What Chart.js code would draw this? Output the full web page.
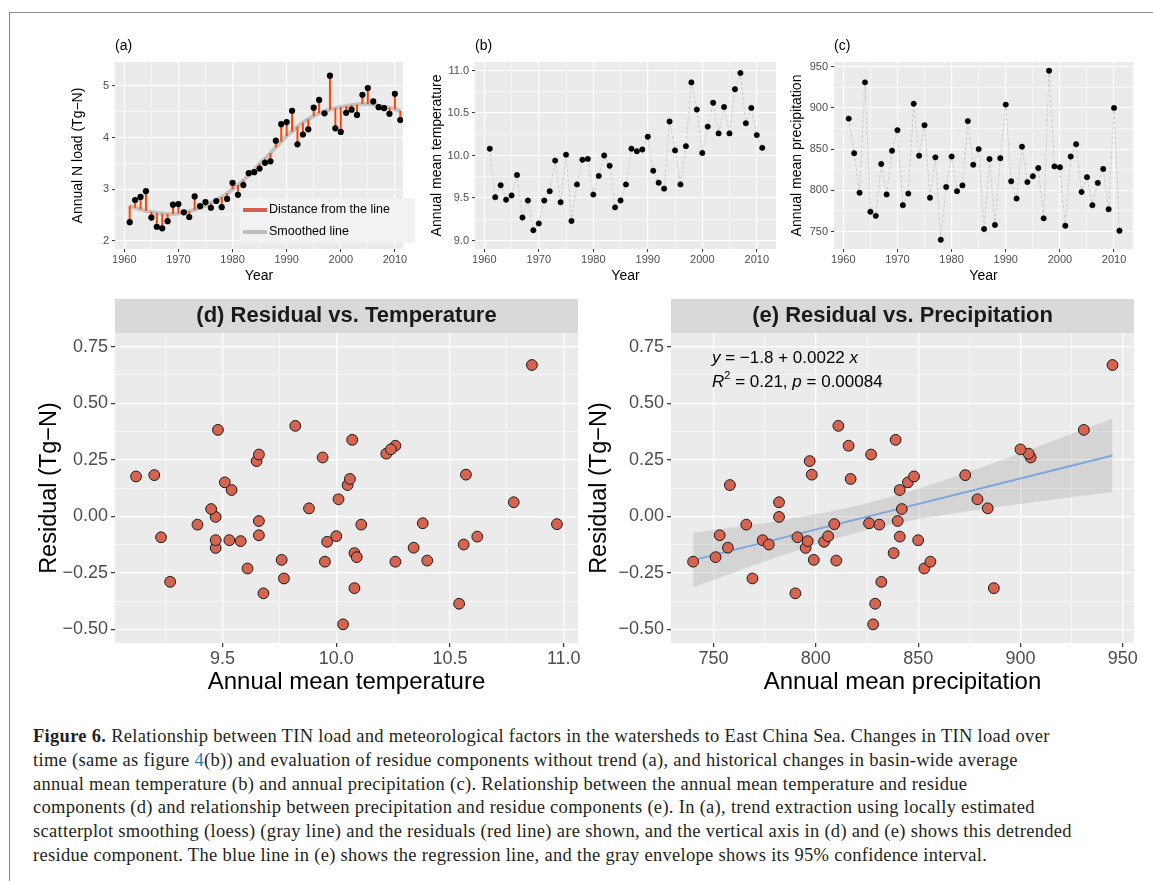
<!DOCTYPE html>
<html>
<head>
<meta charset="utf-8">
<script src="https://cdn.jsdelivr.net/npm/chart.js@4.4.0/dist/chart.umd.min.js"></script>
<style>
  body { margin: 0; background: #fff; width: 1153px; height: 881px; position: relative; overflow: hidden; }
  .frame { position: absolute; left: 9px; top: 12px; width: 1160px; height: 900px; border-left: 1px solid #8a8a8a; border-top: 1px solid #8a8a8a; }
  canvas { position: absolute; }
  #eq { position: absolute; left: 712px; top: 346px; font-family: "Liberation Sans", Arial, sans-serif; font-size: 17px; line-height: 24px; color: #000; white-space: nowrap; }
  #eq sup { font-size: 11px; line-height: 0; position: relative; top: -1px; }
  #caption { position: absolute; left: 33px; top: 725px; font-family: "Liberation Serif", "Times New Roman", serif; font-size: 18.5px; letter-spacing: 0.3px; line-height: 23.8px; color: #231f20; white-space: nowrap; }
  #caption .ref { color: #2b7bbf; }
</style>
</head>
<body>
<div class="frame"></div>
<canvas id="chartA" width="353" height="250" style="left:62px;top:36px"></canvas>
<canvas id="chartB" width="360" height="250" style="left:420px;top:36px"></canvas>
<canvas id="chartC" width="365" height="250" style="left:780px;top:36px"></canvas>
<canvas id="chartD" width="550" height="401" style="left:30px;top:299px"></canvas>
<canvas id="chartE" width="565" height="401" style="left:580px;top:299px"></canvas>
<div id="eq"><i>y</i> = &minus;1.8 + 0.0022 <i>x</i><br><i>R</i><sup>2</sup> = 0.21, <i>p</i> = 0.00084</div>
<div id="caption">
  <div><b>Figure 6.</b> Relationship between TIN load and meteorological factors in the watersheds to East China Sea. Changes in TIN load over</div>
  <div>time (same as figure <span class="ref">4</span>(b)) and evaluation of residue components without trend (a), and historical changes in basin-wide average</div>
  <div>annual mean temperature (b) and annual precipitation (c). Relationship between the annual mean temperature and residue</div>
  <div>components (d) and relationship between precipitation and residue components (e). In (a), trend extraction using locally estimated</div>
  <div>scatterplot smoothing (loess) (gray line) and the residuals (red line) are shown, and the vertical axis in (d) and (e) shows this detrended</div>
  <div>residue component. The blue line in (e) shows the regression line, and the gray envelope shows its 95% confidence interval.</div>
</div>
<script>
const FONT = '"Liberation Sans", Arial, Helvetica, sans-serif';
Chart.defaults.font.family = FONT;

// ================== DATA ==================
const years = [1961, 1962, 1963, 1964, 1965, 1966, 1967, 1968, 1969, 1970,
  1971, 1972, 1973, 1974, 1975, 1976, 1977, 1978, 1979, 1980,
  1981, 1982, 1983, 1984, 1985, 1986, 1987, 1988, 1989, 1990,
  1991, 1992, 1993, 1994, 1995, 1996, 1997, 1998, 1999, 2000,
  2001, 2002, 2003, 2004, 2005, 2006, 2007, 2008, 2009, 2010, 2011];

// annual N load (Tg-N)
const nLoad = [2.36, 2.79, 2.85, 2.96, 2.45, 2.27, 2.24, 2.38, 2.70, 2.71,
  2.55, 2.46, 2.86, 2.67, 2.75, 2.64, 2.77, 2.65, 2.81, 3.12,
  2.89, 3.08, 3.31, 3.33, 3.40, 3.51, 3.54, 3.94, 4.26, 4.30,
  4.52, 3.87, 4.06, 4.16, 4.58, 4.73, 4.47, 5.20, 4.18, 4.11,
  4.48, 4.54, 4.44, 4.83, 4.96, 4.70, 4.59, 4.57, 4.46, 4.85, 4.34];

// loess smoothed line
const smoothed = [2.68, 2.64, 2.61, 2.58, 2.56, 2.54, 2.53, 2.52, 2.52, 2.53,
  2.55, 2.57, 2.60, 2.64, 2.68, 2.73, 2.79, 2.85, 2.92, 3.00,
  3.08, 3.17, 3.27, 3.37, 3.49, 3.59, 3.70, 3.81, 3.92, 4.03,
  4.12, 4.21, 4.29, 4.36, 4.42, 4.47, 4.51, 4.54, 4.57, 4.59,
  4.61, 4.63, 4.64, 4.65, 4.65, 4.64, 4.62, 4.60, 4.58, 4.55, 4.52];

const temperature = [10.08, 9.51, 9.65, 9.48, 9.53, 9.77, 9.27, 9.47, 9.12, 9.20,
  9.47, 9.58, 9.94, 9.45, 10.01, 9.23, 9.66, 9.95, 9.96, 9.54,
  9.76, 10.00, 9.88, 9.39, 9.47, 9.66, 10.08, 10.05, 10.07, 10.22,
  9.82, 9.68, 9.61, 10.40, 10.06, 9.66, 10.11, 10.86, 10.54, 10.03,
  10.34, 10.62, 10.26, 10.57, 10.26, 10.78, 10.97, 10.38, 10.56, 10.24, 10.09];

const precipitation = [887, 845, 797, 931, 774, 769, 832, 795, 848, 873,
  782, 796, 905, 842, 879, 791, 840, 740, 804, 841,
  799, 806, 884, 831, 850, 753, 838, 758, 839, 904,
  811, 790, 853, 810, 817, 827, 766, 945, 829, 828,
  757, 841, 856, 798, 816, 782, 809, 826, 777, 900, 751];

// detrended residue component (Tg-N)
const residual = [-0.318, 0.150, 0.244, 0.382, -0.106, -0.275, -0.290, -0.140, 0.176, 0.182,
  -0.003, -0.110, 0.260, 0.032, 0.075, -0.093, -0.021, -0.201, -0.113, 0.116,
  -0.193, -0.088, 0.035, -0.037, -0.106, -0.084, -0.163, 0.138, 0.338, 0.277,
  0.400, -0.341, -0.231, -0.196, 0.165, 0.273, -0.037, 0.669, -0.387, -0.478,
  -0.139, -0.090, -0.201, 0.184, 0.312, 0.062, -0.035, -0.031, -0.125, 0.296, -0.181];

// regression line and 95% band in (e)
const fitX = [740, 945];
const fitY = [-0.194, 0.269];
const bandX = [740, 760, 780, 800, 820, 840, 860, 880, 900, 920, 945];
const bandLower = [-0.315, -0.249, -0.185, -0.125, -0.073, -0.031, 0.002, 0.030, 0.055, 0.079, 0.106];
const bandUpper = [-0.073, -0.049, -0.023, 0.009, 0.047, 0.095, 0.152, 0.214, 0.279, 0.347, 0.432];

// tick labels
const yearTicks = [1960, 1970, 1980, 1990, 2000, 2010];
const loadTicks = [2, 3, 4, 5];
const tempTicksB = [9.0, 9.5, 10.0, 10.5, 11.0];
const precTicksC = [750, 800, 850, 900, 950];
const residTicks = [-0.5, -0.25, 0, 0.25, 0.5, 0.75];
const tempTicksD = [9.5, 10.0, 10.5, 11.0];
const precTicksE = [750, 800, 850, 900, 950];

// ================== HELPERS ==================
const minus = (s) => s.replace("-", "\u2212");

function axis(o) {
  const step = o.majors[1] - o.majors[0];
  const vals = o.majors.filter((v) => v >= o.min && v <= o.max);
  for (let v = o.majors[0] - step / 2; v <= o.max; v += step) {
    if (v >= o.min) vals.push(v);
  }
  vals.sort((a, b) => a - b);
  const isMajor = (v) => o.majors.some((m) => Math.abs(m - v) < 1e-6);
  const left = o.pos === "left";
  return {
    type: "linear",
    position: o.pos,
    min: o.min,
    max: o.max,
    offset: false,
    afterBuildTicks: (s) => { s.ticks = vals.map((v) => ({ value: v })); },
    afterFit: (s) => {
      if (left) s.width = o.size; else s.height = o.size;
      s.paddingLeft = s.paddingRight = s.paddingTop = s.paddingBottom = 0;
    },
    grid: {
      offset: false,
      color: "#FFFFFF",
      lineWidth: (c) => (c.tick && isMajor(c.tick.value) ? o.majorW : o.minorW),
      drawTicks: true,
      tickLength: o.tickLen,
      tickWidth: o.tickW || 1,
      tickColor: (c) => (c.tick && isMajor(c.tick.value) ? "#333333" : "rgba(0,0,0,0)"),
    },
    border: { display: false },
    ticks: {
      autoSkip: false,
      maxRotation: 0,
      minRotation: 0,
      padding: o.pad,
      color: "#4D4D4D",
      font: { size: o.tickSize, family: FONT },
      callback: (v) => (isMajor(v) ? o.fmt(v) : ""),
    },
    title: {
      display: true,
      text: o.title,
      color: "#000000",
      font: { size: o.titleSize, family: FONT },
      padding: left ? { top: o.titlePad, bottom: 0 } : { top: 0, bottom: o.titlePad },
    },
  };
}

const panelBg = {
  id: "panelBg",
  beforeDraw(chart, args, opts) {
    const { ctx, chartArea: a } = chart;
    ctx.save();
    ctx.fillStyle = "#EBEBEB";
    ctx.fillRect(a.left, a.top, a.right - a.left, a.bottom - a.top);
    if (opts.strip) {
      ctx.fillStyle = "#D9D9D9";
      ctx.fillRect(a.left, 0, a.right - a.left, a.top);
    }
    ctx.restore();
  },
};

const legendA = {
  id: "legendA",
  afterDraw(chart) {
    const ctx = chart.ctx;
    ctx.save();
    ctx.fillStyle = "#F2F2F2";
    ctx.fillRect(178, 162, 175, 45);
    ctx.lineWidth = 4;
    ctx.strokeStyle = "#D6604D";
    ctx.beginPath(); ctx.moveTo(181, 174); ctx.lineTo(205, 174); ctx.stroke();
    ctx.strokeStyle = "#BEBEBE";
    ctx.beginPath(); ctx.moveTo(181, 196); ctx.lineTo(205, 196); ctx.stroke();
    ctx.fillStyle = "#000000";
    ctx.font = "12.5px " + FONT;
    ctx.textBaseline = "middle";
    ctx.fillText("Distance from the line", 207, 174);
    ctx.fillText("Smoothed line", 207, 196);
    ctx.restore();
  },
};

function panelTitle(text, pad) {
  return {
    display: true, text, align: "start", fullSize: false, color: "#000000",
    font: { size: 14, family: FONT, weight: "normal" }, padding: pad,
  };
}

function stripTitle(text) {
  return {
    display: true, text, align: "center", fullSize: false, color: "#1A1A1A",
    font: { size: 22, family: FONT, weight: "bold" }, padding: { top: 4, bottom: 3.6 },
  };
}

const baseOptions = (padRight) => ({
  responsive: false,
  maintainAspectRatio: false,
  animation: false,
  devicePixelRatio: 1,
  events: [],
  layout: { padding: { left: 0, top: 0, right: padRight, bottom: 0 }, autoPadding: false },
});

const smallAxis = { tickSize: 11, titleSize: 14, tickLen: 3, majorW: 1.1, minorW: 0.5 };
const bigAxis = { tickSize: 18, titleSize: 23.5, tickLen: 4, majorW: 1.3, minorW: 0.6, tickW: 1.2 };

// ================== (a) N load ==================
const segments = [];
years.forEach((yr, i) => {
  segments.push({ x: yr, y: smoothed[i] }, { x: yr, y: nLoad[i] }, { x: yr, y: null });
});

new Chart(document.getElementById("chartA"), {
  type: "scatter",
  data: {
    datasets: [
      { data: years.map((yr, i) => ({ x: yr, y: nLoad[i] })), pointRadius: 3.1, backgroundColor: "#000", borderColor: "#000", borderWidth: 0, order: 0 },
      { type: "line", data: segments, borderColor: "#FF4500", borderWidth: 2, pointRadius: 0, spanGaps: false, order: 1 },
      { type: "line", data: years.map((yr, i) => ({ x: yr, y: smoothed[i] })), borderColor: "rgba(190,190,190,0.9)", borderWidth: 4, pointRadius: 0, tension: 0.4, order: 2 },
    ],
  },
  options: {
    ...baseOptions(12),
    plugins: { legend: { display: false }, tooltip: { enabled: false }, panelBg: {}, title: panelTitle("(a)", { top: 2, bottom: 7.2 }) },
    scales: {
      x: axis({ ...smallAxis, pos: "bottom", min: 1958.28, max: 2011.5, majors: yearTicks, fmt: String, size: 37, pad: 1.5, title: "Year", titlePad: 1.6 }),
      y: axis({ ...smallAxis, pos: "left", min: 1.84, max: 5.465, majors: loadTicks, fmt: String, size: 53, pad: 3, title: "Annual N load (Tg\u2212N)", titlePad: 7.6 }),
    },
  },
  plugins: [panelBg, legendA],
});

// ================== (b) temperature ==================
new Chart(document.getElementById("chartB"), {
  type: "scatter",
  data: {
    datasets: [
      { data: years.map((yr, i) => ({ x: yr, y: temperature[i] })), showLine: true, borderDash: [3, 2], borderColor: "#C4C4C4", borderWidth: 0.8,
        pointRadius: 2.7, pointBackgroundColor: "#000", pointBorderColor: "#000", pointBorderWidth: 0.5 },
    ],
  },
  options: {
    ...baseOptions(4),
    plugins: { legend: { display: false }, tooltip: { enabled: false }, panelBg: {}, title: panelTitle("(b)", { top: 2, bottom: 7.2 }) },
    scales: {
      x: axis({ ...smallAxis, pos: "bottom", min: 1958.29, max: 2013.53, majors: yearTicks, fmt: String, size: 37, pad: 1.5, title: "Year", titlePad: 1.6 }),
      y: axis({ ...smallAxis, pos: "left", min: 8.9, max: 11.1, majors: tempTicksB, fmt: (v) => v.toFixed(1), size: 55, pad: 3, title: "Annual mean temperature", titlePad: 8.6 }),
    },
  },
  plugins: [panelBg],
});

// ================== (c) precipitation ==================
new Chart(document.getElementById("chartC"), {
  type: "scatter",
  data: {
    datasets: [
      { data: years.map((yr, i) => ({ x: yr, y: precipitation[i] })), showLine: true, borderDash: [3, 2], borderColor: "#C4C4C4", borderWidth: 0.8,
        pointRadius: 2.7, pointBackgroundColor: "#000", pointBorderColor: "#000", pointBorderWidth: 0.5 },
    ],
  },
  options: {
    ...baseOptions(12),
    plugins: { legend: { display: false }, tooltip: { enabled: false }, panelBg: {}, title: panelTitle("(c)", { top: 2, bottom: 7.2 }) },
    scales: {
      x: axis({ ...smallAxis, pos: "bottom", min: 1958.28, max: 2013.5, majors: yearTicks, fmt: String, size: 37, pad: 1.5, title: "Year", titlePad: 1.6 }),
      y: axis({ ...smallAxis, pos: "left", min: 728.8, max: 955.7, majors: precTicksC, fmt: String, size: 54, pad: 3, title: "Annual mean precipitation", titlePad: 8.6 }),
    },
  },
  plugins: [panelBg],
});

// ================== (d) residual vs temperature ==================
const pointStyle = { pointRadius: 5.4, pointBackgroundColor: "#D6644F", pointBorderColor: "#1A1A1A", pointBorderWidth: 1 };

new Chart(document.getElementById("chartD"), {
  type: "scatter",
  data: {
    datasets: [{ data: temperature.map((t, i) => ({ x: t, y: residual[i] })), ...pointStyle }],
  },
  options: {
    ...baseOptions(2),
    plugins: { legend: { display: false }, tooltip: { enabled: false }, panelBg: { strip: true }, title: stripTitle("(d) Residual vs. Temperature") },
    scales: {
      x: axis({ ...bigAxis, pos: "bottom", min: 9.0275, max: 11.0625, majors: tempTicksD, fmt: (v) => v.toFixed(1), size: 57, pad: 1, title: "Annual mean temperature", titleSize: 24, titlePad: 3.6 }),
      y: axis({ ...bigAxis, pos: "left", min: -0.5606, max: 0.8106, majors: residTicks, fmt: (v) => minus(v.toFixed(2)), size: 85, pad: 3, title: "Residual (Tg\u2212N)", titlePad: 5.9 }),
    },
  },
  plugins: [panelBg],
});

// ================== (e) residual vs precipitation ==================
new Chart(document.getElementById("chartE"), {
  type: "scatter",
  data: {
    datasets: [
      { data: precipitation.map((p, i) => ({ x: p, y: residual[i] })), ...pointStyle, order: 0 },
      { type: "line", data: fitX.map((x, i) => ({ x, y: fitY[i] })), borderColor: "#7FA7DB", borderWidth: 2, pointRadius: 0, order: 1 },
      { type: "line", data: bandX.map((x, i) => ({ x, y: bandLower[i] })), borderWidth: 0, borderColor: "rgba(0,0,0,0)", pointRadius: 0, tension: 0.4, order: 2 },
      { type: "line", data: bandX.map((x, i) => ({ x, y: bandUpper[i] })), borderWidth: 0, borderColor: "rgba(0,0,0,0)", pointRadius: 0, tension: 0.4,
        fill: "-1", backgroundColor: "rgba(153,153,153,0.28)", order: 3 },
    ],
  },
  options: {
    ...baseOptions(11),
    plugins: { legend: { display: false }, tooltip: { enabled: false }, panelBg: { strip: true }, title: stripTitle("(e) Residual vs. Precipitation") },
    scales: {
      x: axis({ ...bigAxis, pos: "bottom", min: 729.2, max: 955.5, majors: precTicksE, fmt: String, size: 57, pad: 1, title: "Annual mean precipitation", titleSize: 24, titlePad: 3.6 }),
      y: axis({ ...bigAxis, pos: "left", min: -0.5606, max: 0.8106, majors: residTicks, fmt: (v) => minus(v.toFixed(2)), size: 91, pad: 3, title: "Residual (Tg\u2212N)", titlePad: 5.9 }),
    },
  },
  plugins: [panelBg],
});
</script>
</body>
</html>
